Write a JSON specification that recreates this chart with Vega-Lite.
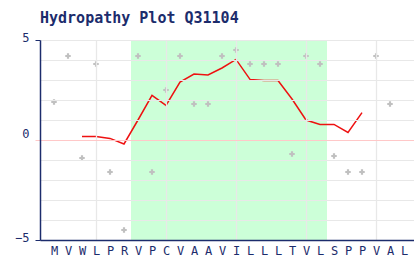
{
  "$schema": "https://vega.github.io/schema/vega-lite/v6.json",
  "width": 374,
  "height": 200,
  "autosize": "none",
  "padding": {"left": 40, "top": 40, "right": 0, "bottom": 20},
  "background": "white",
  "title": {"text": "Hydropathy Plot Q31104", "anchor": "start", "frame": "group", "font": "DejaVu Sans Mono", "fontSize": 15, "fontWeight": "bold", "color": "#1c2c6c", "offset": 5},
  "config": {"view": {"stroke": null}},
  "datasets": {
    "band": [{"start": 6.5, "end": 20.5}],
    "residues": [
      {"i": 1, "aa": "M", "h": 1.9}, {"i": 2, "aa": "V", "h": 4.2}, {"i": 3, "aa": "W", "h": -0.9},
      {"i": 4, "aa": "L", "h": 3.8}, {"i": 5, "aa": "P", "h": -1.6}, {"i": 6, "aa": "R", "h": -4.5},
      {"i": 7, "aa": "V", "h": 4.2}, {"i": 8, "aa": "P", "h": -1.6}, {"i": 9, "aa": "C", "h": 2.5},
      {"i": 10, "aa": "V", "h": 4.2}, {"i": 11, "aa": "A", "h": 1.8}, {"i": 12, "aa": "A", "h": 1.8},
      {"i": 13, "aa": "V", "h": 4.2}, {"i": 14, "aa": "I", "h": 4.5}, {"i": 15, "aa": "L", "h": 3.8},
      {"i": 16, "aa": "L", "h": 3.8}, {"i": 17, "aa": "L", "h": 3.8}, {"i": 18, "aa": "T", "h": -0.7},
      {"i": 19, "aa": "V", "h": 4.2}, {"i": 20, "aa": "L", "h": 3.8}, {"i": 21, "aa": "S", "h": -0.8},
      {"i": 22, "aa": "P", "h": -1.6}, {"i": 23, "aa": "P", "h": -1.6}, {"i": 24, "aa": "V", "h": 4.2},
      {"i": 25, "aa": "A", "h": 1.8}, {"i": 26, "aa": "L", "h": null}
    ],
    "smooth": [
      {"i": 3, "h": 0.18}, {"i": 4, "h": 0.18}, {"i": 5, "h": 0.08}, {"i": 6, "h": -0.2},
      {"i": 7, "h": 1.0}, {"i": 8, "h": 2.23}, {"i": 9, "h": 1.73}, {"i": 10, "h": 2.9},
      {"i": 11, "h": 3.3}, {"i": 12, "h": 3.25}, {"i": 13, "h": 3.6}, {"i": 14, "h": 4.03},
      {"i": 15, "h": 3.03}, {"i": 16, "h": 2.97}, {"i": 17, "h": 2.97}, {"i": 18, "h": 2.05},
      {"i": 19, "h": 1.0}, {"i": 20, "h": 0.78}, {"i": 21, "h": 0.78}, {"i": 22, "h": 0.38},
      {"i": 23, "h": 1.37}
    ]
  },
  "layer": [
    {
      "data": {"name": "band"},
      "mark": {"type": "rect", "color": "#ccffd8"},
      "encoding": {
        "x": {"field": "start", "type": "quantitative",
          "scale": {"domain": [0, 26.714], "nice": false, "zero": false},
          "axis": {"orient": "top", "values": [4, 9, 14, 19, 24], "grid": true, "gridColor": "#e8e8e8", "gridWidth": 1.3, "labels": false, "ticks": false, "domain": false, "title": null, "zindex": 1}},
        "x2": {"field": "end"}
      }
    },
    {
      "data": {"name": "residues"},
      "mark": {"type": "point", "shape": "cross", "filled": true, "size": 30, "color": "#c0c0c0", "opacity": 1},
      "encoding": {
        "x": {"field": "i", "type": "quantitative",
          "axis": {"orient": "bottom", "values": [1,2,3,4,5,6,7,8,9,10,11,12,13,14,15,16,17,18,19,20,21,22,23,24,25,26],
            "labelExpr": "substring('MVWLPRVPCVAAVILLLTVLSPPVAL', datum.value - 1, datum.value)",
            "ticks": false, "grid": false, "domainColor": "#1c2c6c", "domainWidth": 1.5,
            "labelFont": "DejaVu Sans Mono", "labelFontSize": 12, "labelColor": "#1c2c6c", "labelPadding": 5,
            "labelFlush": false, "labelOverlap": false, "title": null, "zindex": 2}},
        "y": {"field": "h", "type": "quantitative",
          "scale": {"domain": [-5, 5], "nice": false, "zero": false},
          "axis": {"values": [-5,-4,-3,-2,-1,0,1,2,3,4,5], "title": null, "grid": true,
            "gridColor": {"condition": {"test": "datum.value === 0", "value": "#ffc8c8"}, "value": "#e8e8e8"},
            "labelExpr": "datum.value % 5 === 0 ? datum.label : ''",
            "tickSize": 5,
            "tickOpacity": {"condition": {"test": "datum.value % 5 === 0", "value": 1}, "value": 0},
            "tickColor": {"condition": {"test": "datum.value === 0", "value": "#ffc8c8"}, "value": "#1c2c6c"},
            "domainColor": "#1c2c6c", "domainWidth": 1.5,
            "labelFont": "DejaVu Sans Mono", "labelFontSize": 12, "labelColor": "#1c2c6c", "labelPadding": 6,
            "labelOffset": {"condition": {"test": "datum.value === 0", "value": -7}, "value": -3},
            "labelFlush": false, "labelOverlap": false, "zindex": 1}}
      }
    },
    {
      "data": {"name": "smooth"},
      "mark": {"type": "line", "color": "#ee1111", "strokeWidth": 1.5},
      "encoding": {
        "x": {"field": "i", "type": "quantitative", "axis": null},
        "y": {"field": "h", "type": "quantitative", "axis": null}
      }
    }
  ],
  "resolve": {"axis": {"x": "independent", "y": "independent"}}
}
